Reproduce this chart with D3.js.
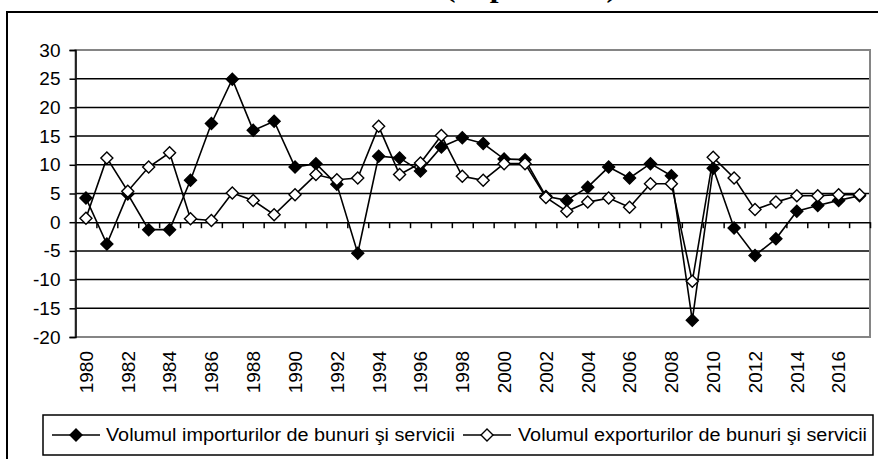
<!DOCTYPE html>
<html>
<head>
<meta charset="utf-8">
<script src="https://cdn.jsdelivr.net/npm/d3@7/dist/d3.min.js"></script>
<style>
  html, body { margin: 0; padding: 0; background: #fff; }
  svg { display: block; font-family: "Liberation Sans", Arial, sans-serif; }
  .axis text { font-size: 19px; fill: #000; }
</style>
</head>
<body>
<div id="chart"></div>
<script>
// ani 1980..2017
const years = d3.range(1980, 2018);
const yTicks = [-20, -15, -10, -5, 0, 5, 10, 15, 20, 25, 30];
const seriesNames = [
  "Volumul importurilor de bunuri şi servicii",
  "Volumul exporturilor de bunuri şi servicii"
];
const importuri = [
  4.2, -3.8, 4.9, -1.3, -1.3, 7.3, 17.2, 24.9, 16.0, 17.6,
  9.6, 10.2, 6.6, -5.4, 11.5, 11.2, 8.9, 13.1, 14.7, 13.7,
  11.0, 10.9, 4.5, 3.8, 6.1, 9.6, 7.7, 10.2, 8.1, -17.1,
  9.4, -1.0, -5.8, -2.9, 1.9, 2.9, 3.8, 4.6
];
const exporturi = [
  0.7, 11.2, 5.4, 9.6, 12.1, 0.6, 0.3, 5.1, 3.8, 1.3,
  4.8, 8.3, 7.4, 7.7, 16.7, 8.3, 10.3, 15.1, 8.0, 7.3,
  10.2, 10.2, 4.3, 1.9, 3.5, 4.2, 2.6, 6.7, 6.7, -10.3,
  11.3, 7.7, 2.2, 3.5, 4.6, 4.6, 4.8, 4.8
];

const W = 878, H = 459;
const P = { l: 75.5, r: 870, t: 50, b: 337 };

const svg = d3.select("#chart").append("svg")
  .attr("width", W).attr("height", H);

// titlul (taiat sus, ca in original)
svg.append("text")
  .attr("x", 445).attr("y", -3)
  .attr("textLength", 172).attr("lengthAdjust", "spacingAndGlyphs")
  .style("font-family", "'Liberation Serif', 'Times New Roman', serif")
  .style("font-weight", "bold").style("font-size", "27px")
  .text("(în procente)");

// chenarul exterior
svg.append("rect")
  .attr("x", 7).attr("y", 12).attr("width", 900).attr("height", 480)
  .attr("fill", "none").attr("stroke", "#000").attr("stroke-width", 2);

const x = d3.scaleBand().domain(years).range([P.l, P.r]);
const cx = d => x(d) + x.bandwidth() / 2;
const y = d3.scaleLinear().domain([-20, 30]).range([P.b, P.t]);

// grid
svg.append("g")
  .selectAll("line")
  .data(yTicks.filter(v => v > -20 && v < 30 && v !== 0))
  .join("line")
  .attr("x1", P.l).attr("x2", P.r)
  .attr("y1", d => y(d)).attr("y2", d => y(d))
  .attr("stroke", "#000").attr("stroke-width", 1.5);

// chenar plot (gri)
svg.append("rect")
  .attr("x", P.l).attr("y", P.t)
  .attr("width", P.r - P.l).attr("height", P.b - P.t)
  .attr("fill", "none").attr("stroke", "#858585").attr("stroke-width", 2);

// axa Y
const yAxis = svg.append("g").attr("class", "axis")
  .attr("transform", `translate(${P.l},0)`)
  .call(d3.axisLeft(y).tickValues(yTicks).tickSize(6).tickPadding(9)
    .tickFormat(d => String(d)));
yAxis.select(".domain").attr("stroke", "#000").attr("stroke-width", 1.5);
yAxis.selectAll(".tick line").attr("stroke-width", 1.5);

// axa X la 0, cu gradatii intre categorii
const xb = d3.scaleLinear().domain([0, years.length]).range([P.l, P.r]);
const xAxis = svg.append("g").attr("class", "axis")
  .attr("transform", `translate(0,${y(0)})`)
  .call(d3.axisBottom(xb).tickValues(d3.range(1, years.length + 1))
    .tickSizeInner(6).tickSizeOuter(0).tickFormat(""));
xAxis.select(".domain").attr("stroke-width", 1.5);
xAxis.selectAll(".tick line").attr("stroke-width", 1.5);

// etichete ani
const xLab = svg.append("g").attr("class", "axis")
  .attr("transform", `translate(0,${P.b})`)
  .call(d3.axisBottom(x).tickValues(years.filter(v => v % 2 === 0)).tickSize(0));
xLab.select(".domain").remove();
xLab.selectAll("text")
  .attr("transform", "rotate(-90)")
  .attr("x", -14).attr("y", 0).attr("dy", "0.36em")
  .style("text-anchor", "end");

// romb patrat (ca markerii din Excel)
const squareDiamond = {
  draw(ctx, size) {
    const r = Math.sqrt(size / 2);
    ctx.moveTo(0, -r); ctx.lineTo(r, 0); ctx.lineTo(0, r); ctx.lineTo(-r, 0); ctx.closePath();
  }
};
const diamond = d3.symbol().type(squareDiamond).size(72);
const line = d3.line().x((d, i) => cx(years[i])).y(d => y(d));
const series = [
  { name: seriesNames[0], values: importuri, fill: "#000" },
  { name: seriesNames[1], values: exporturi, fill: "#fff" }
];
series.forEach(s => {
  svg.append("path").datum(s.values)
    .attr("d", line).attr("fill", "none")
    .attr("stroke", "#000").attr("stroke-width", 1.6);
});
series.forEach(s => {
  svg.append("g").selectAll("path")
    .data(s.values).join("path")
    .attr("d", diamond)
    .attr("transform", (d, i) => `translate(${cx(years[i])},${y(d)})`)
    .attr("fill", s.fill).attr("stroke", "#000").attr("stroke-width", 1.4);
});

// legenda
const lg = svg.append("g");
lg.append("rect")
  .attr("x", 43).attr("y", 415).attr("width", 830).attr("height", 40)
  .attr("fill", "#fff").attr("stroke", "#000").attr("stroke-width", 1.5);
const items = [
  { x0: 52, tx: 106, s: series[0] },
  { x0: 463, tx: 518, s: series[1] }
];
items.forEach(it => {
  lg.append("line")
    .attr("x1", it.x0).attr("x2", it.x0 + 48)
    .attr("y1", 435).attr("y2", 435)
    .attr("stroke", "#000").attr("stroke-width", 1.6);
  lg.append("path").attr("d", diamond)
    .attr("transform", `translate(${it.x0 + 24},435)`)
    .attr("fill", it.s.fill).attr("stroke", "#000").attr("stroke-width", 1.4);
  lg.append("text")
    .attr("x", it.tx).attr("y", 441)
    .attr("textLength", 349).attr("lengthAdjust", "spacingAndGlyphs")
    .style("font-size", "18px")
    .text(it.s.name);
});
</script>
</body>
</html>
